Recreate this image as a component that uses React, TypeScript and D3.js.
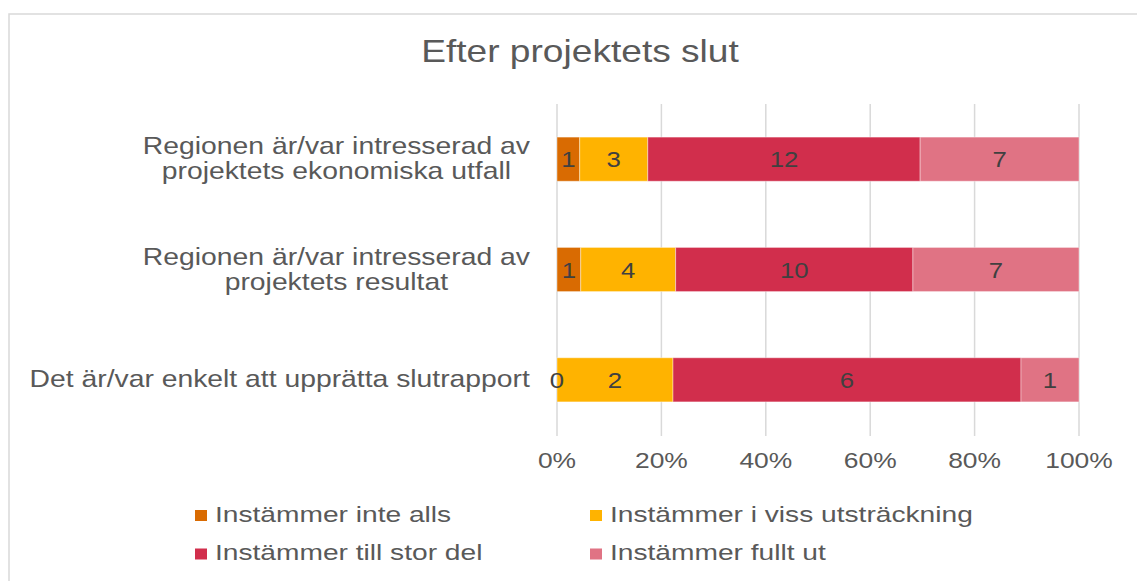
import React from "react";
import * as d3 from "d3";

const title = "Efter projektets slut";
const categories = [
  ["Regionen är/var intresserad av", "projektets ekonomiska utfall"],
  ["Regionen är/var intresserad av", "projektets resultat"],
  ["Det är/var enkelt att upprätta slutrapport"],
];
const seriesNames = [
  "Instämmer inte alls",
  "Instämmer i viss utsträckning",
  "Instämmer till stor del",
  "Instämmer fullt ut",
];
const seriesColors = ["#D96B02", "#FFB300", "#D12E4C", "#E07384"];
const inteAlls = [1, 1, 0];
const vissUtstrackning = [3, 4, 2];
const tillStorDel = [12, 10, 6];
const fulltUt = [7, 7, 1];
const tickValues = [0, 0.2, 0.4, 0.6, 0.8, 1];

const FONT = '"Liberation Sans", Arial, sans-serif';
const SX = 1.18;

function measure(text: string, size: number) {
  const c = document.createElement("canvas");
  const ctx = c.getContext("2d")!;
  ctx.font = `${size}px ${FONT}`;
  return ctx.measureText(text).width * SX;
}

function T(props: {
  x: number;
  y: number;
  size: number;
  anchor?: "start" | "middle" | "end";
  fill?: string;
  sx?: number;
  children: React.ReactNode;
}) {
  const { x, y, size, anchor = "start", fill = "#595959", sx = SX, children } = props;
  return (
    <text
      transform={`translate(${x},${y}) scale(${sx},1)`}
      fontSize={size}
      fontFamily={FONT}
      textAnchor={anchor}
      fill={fill}
    >
      {children}
    </text>
  );
}

export default function App() {
  const W = 1137;
  const H = 581;
  const rows = categories.map((_, i) => ({
    i,
    s0: inteAlls[i],
    s1: vissUtstrackning[i],
    s2: tillStorDel[i],
    s3: fulltUt[i],
  }));
  const keys = ["s0", "s1", "s2", "s3"];
  const stacked = d3.stack<any>().keys(keys).offset(d3.stackOffsetExpand)(rows);
  const values = [inteAlls, vissUtstrackning, tillStorDel, fulltUt];

  const x = d3.scaleLinear().domain([0, 1]).range([557, 1079]);
  const y = d3
    .scaleBand<number>()
    .domain(categories.map((_, i) => i))
    .range([104, 435])
    .paddingInner(0.6)
    .paddingOuter(0.3);

  const labelRight = 530;

  return (
    <svg width={W} height={H} style={{ position: "absolute", left: 0, top: 0 }}>
      <rect x={0} y={0} width={W} height={H} fill="#fff" />
      <rect x={9} y={14} width={W + 20} height={H + 20} fill="#fff" stroke="#d9d9d9" strokeWidth={1.5} />
      <T x={580} y={62} size={32} anchor="middle" sx={1.16}>
        {title}
      </T>
      {tickValues.map((t) => (
        <line key={t} x1={x(t)} x2={x(t)} y1={104} y2={436} stroke="#d9d9d9" strokeWidth={1.5} />
      ))}
      {stacked.map((layer, si) =>
        layer.map((d, ci) => (
          <rect
            key={`${si}-${ci}`}
            x={x(d[0])}
            y={y(ci)!}
            width={Math.max(0, x(d[1]) - x(d[0]))}
            height={y.bandwidth()}
            fill={seriesColors[si]}
            stroke="#ffffff"
            strokeOpacity={0.4}
            strokeWidth={1}
          />
        ))
      )}
      {stacked.map((layer, si) =>
        layer.map((d, ci) => (
          <T
            key={`l-${si}-${ci}`}
            x={x((d[0] + d[1]) / 2)}
            y={y(ci)! + y.bandwidth() / 2 + 8}
            size={23}
            anchor="middle"
            fill="#404040"
            sx={1.12}
          >
            {values[si][ci]}
          </T>
        ))
      )}
      {tickValues.map((t) => (
        <T key={`t-${t}`} x={x(t)} y={468} size={22} anchor="middle" sx={1.2}>
          {d3.format(".0%")(t)}
        </T>
      ))}
      {categories.map((lines, ci) => {
        const maxW = Math.max(...lines.map((l) => measure(l, 24)));
        const cx = labelRight - maxW / 2;
        const cy = y(ci)! + y.bandwidth() / 2;
        return lines.map((l, li) => (
          <T
            key={`c-${ci}-${li}`}
            x={cx}
            y={cy + 7.5 + (li - (lines.length - 1) / 2) * 25}
            size={24}
            anchor="middle"
          >
            {l}
          </T>
        ));
      })}
      {seriesNames.map((name, si) => {
        const col = si % 2;
        const row = Math.floor(si / 2);
        const mx = col === 0 ? 195 : 590;
        const by = row === 0 ? 521.5 : 560;
        return (
          <g key={name}>
            <rect x={mx} y={by - 11.5} width={12} height={11} fill={seriesColors[si]} />
            <T x={mx + 20} y={by} size={22} sx={1.28}>
              {name}
            </T>
          </g>
        );
      })}
    </svg>
  );
}
